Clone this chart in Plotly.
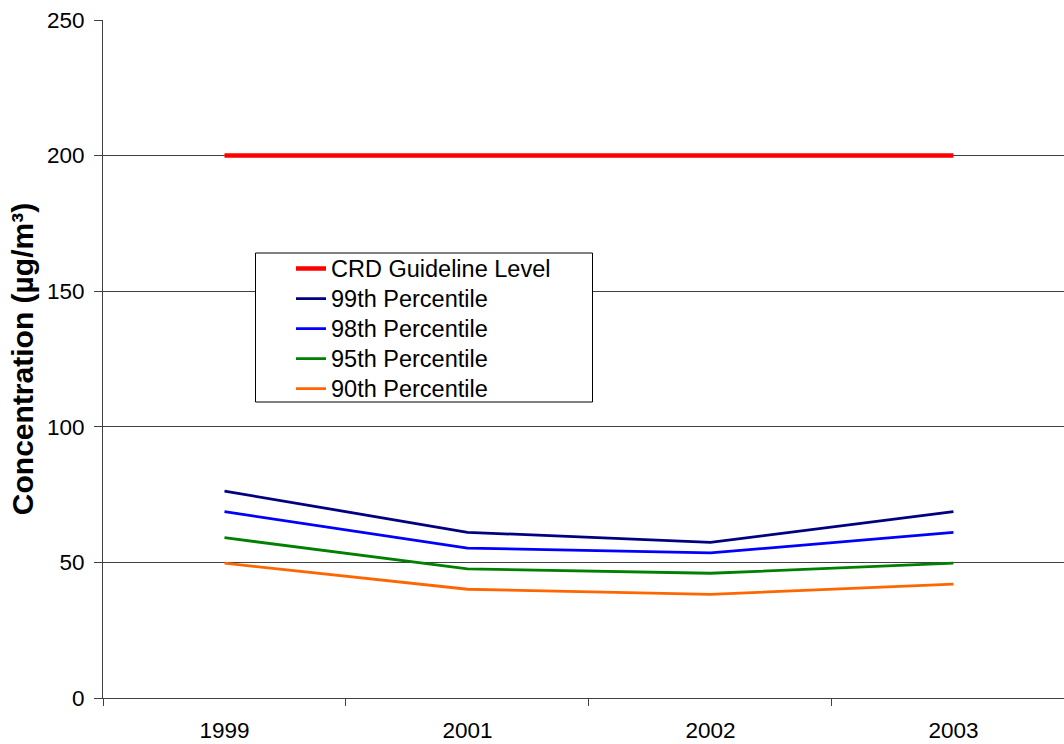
import plotly.graph_objects as go

years = ["1999", "2001", "2002", "2003"]
guideline = [200, 200, 200, 200]
p99 = [76.3, 61.1, 57.4, 68.7]
p98 = [68.7, 55.3, 53.5, 61.1]
p95 = [59.1, 47.6, 46.0, 49.7]
p90 = [49.7, 40.1, 38.2, 42.0]

series = [
    ("CRD Guideline Level", guideline, "#FF0000", 4.5),
    ("99th Percentile", p99, "#000080", 2.8),
    ("98th Percentile", p98, "#0000FF", 2.8),
    ("95th Percentile", p95, "#008000", 2.8),
    ("90th Percentile", p90, "#FF6600", 2.8),
]

FONT = "Liberation Sans, Arial, sans-serif"

# plot area in pixels (for placing the legend frame)
L, R, T, B = 103, 1064, 20, 698
W_PLOT, H_PLOT = R - L, B - T


def px_x(px):
    return (px - L) / W_PLOT


def px_y(py):
    return (B - py) / H_PLOT


fig = go.Figure()
for name, vals, color, w in series:
    fig.add_trace(go.Scatter(
        x=years, y=vals, mode="lines",
        name=f'<span style="font-size:23.5px">{name}</span>',
        line=dict(color=color, width=w),
    ))

# legend frame drawn as a shape so its width can be set freely
fig.add_shape(
    type="rect", xref="paper", yref="paper",
    x0=px_x(255.5), x1=px_x(592.5), y0=px_y(402), y1=px_y(253),
    fillcolor="white", line=dict(color="black", width=1), layer="above",
)

fig.update_layout(
    width=1064, height=744,
    margin=dict(l=L, r=0, t=T, b=744 - B),
    paper_bgcolor="white", plot_bgcolor="white",
    font=dict(family=FONT, size=22.5, color="black"),
    showlegend=True,
    legend=dict(
        x=px_x(255), y=px_y(248.5), xanchor="left", yanchor="top",
        bgcolor="rgba(0,0,0,0)", borderwidth=0,
        font=dict(family=FONT, size=20.8, color="black"),
        indentation=36,
    ),
    xaxis=dict(
        type="category", range=[-0.5, 3.455],
        tickson="boundaries", ticks="outside", ticklen=7,
        tickcolor="#404040", showgrid=False,
        showline=True, linecolor="#404040", linewidth=1,
        tickfont=dict(family=FONT, size=22.5, color="black"),
        ticklabelstandoff=12,
    ),
    yaxis=dict(
        range=[0, 250], tickvals=[0, 50, 100, 150, 200, 250],
        ticks="outside", ticklen=8, tickcolor="#404040",
        showgrid=True, gridcolor="#404040", gridwidth=1,
        showline=True, linecolor="#404040", linewidth=1,
        zeroline=False,
        tickfont=dict(family=FONT, size=22.5, color="black"),
        ticklabelstandoff=5,
        title=dict(text="<b>Concentration (µg/m³)</b>",
                   font=dict(family=FONT, size=30, color="black"),
                   standoff=4),
    ),
)

fig.write_html("out.html")
